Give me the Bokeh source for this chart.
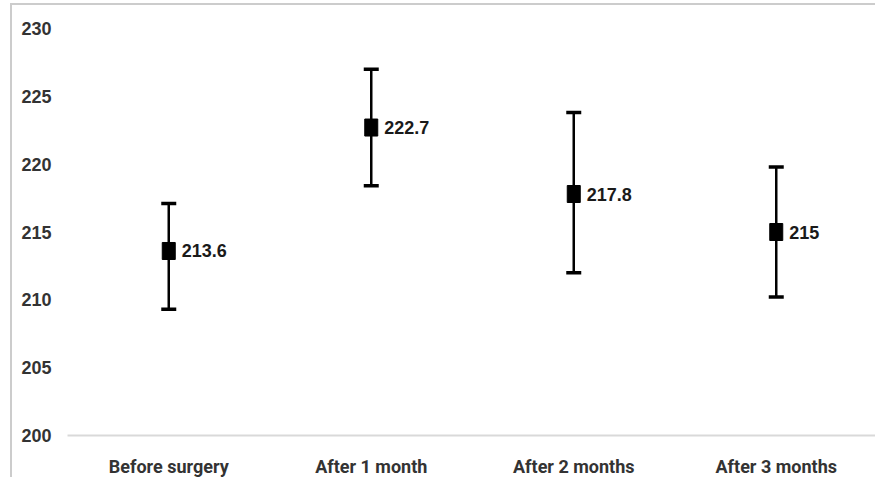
from bokeh.plotting import figure
from bokeh.models import ColumnDataSource, Whisker, TeeHead, FixedTicker, Range1d
from bokeh.core.properties import value
from bokeh.embed import file_html
from bokeh.resources import INLINE

categories = ["Before surgery", "After 1 month", "After 2 months", "After 3 months"]
means = [213.6, 222.7, 217.8, 215.0]
upper = [217.1, 227.0, 223.8, 219.8]
lower = [209.3, 218.4, 212.0, 210.2]
labels = ["213.6", "222.7", "217.8", "215"]
y_ticks = [200, 205, 210, 215, 220, 225, 230]

src = ColumnDataSource(dict(cat=categories, mean=means, upper=upper, lower=lower, label=labels))

p = figure(x_range=categories, y_range=Range1d(200, 230), width=865, height=474,
           output_backend="svg", toolbar_location=None,
           min_border_left=55, min_border_right=0, min_border_top=23, min_border_bottom=10)
p.styles = {"margin-top": "3px", "margin-left": "10px",
            "border-top": "2px solid #cccccc", "border-left": "2px solid #cccccc"}
p.outline_line_color = None
p.background_fill_color = "white"
p.border_fill_color = "white"
p.xgrid.grid_line_color = None
p.ygrid.grid_line_color = None

w = Whisker(source=src, base="cat", upper="upper", lower="lower",
            line_color="black", line_width=2.5,
            upper_head=TeeHead(size=15, line_width=3.5, line_color="black"),
            lower_head=TeeHead(size=15, line_width=3.5, line_color="black"))
p.add_layout(w)

p.rect(x="cat", y="mean", width=13, height=17, width_units="screen", height_units="screen",
       source=src, fill_color="black", line_color="black")
p.text(x="cat", y="mean", text="label", source=src, x_offset=13,
       text_font=value("Liberation Sans"), text_font_style="bold", text_font_size="18px",
       text_baseline="middle", text_align="left", text_color="#1a1a1a")

p.yaxis.ticker = FixedTicker(ticks=y_ticks)
p.yaxis.axis_line_color = None
p.yaxis.major_tick_line_color = None
p.yaxis.major_tick_out = 0
p.yaxis.minor_tick_line_color = None
p.yaxis.major_label_text_font = "Liberation Sans"
p.yaxis.major_label_text_font_style = "bold"
p.yaxis.major_label_text_font_size = "18px"
p.yaxis.major_label_text_color = "#333333"
p.yaxis.major_label_standoff = 16

p.xaxis.axis_line_color = "#d9d9d9"
p.xaxis.axis_line_width = 2
p.xaxis.major_tick_line_color = None
p.xaxis.major_tick_out = 0
p.xaxis.minor_tick_line_color = None
p.xaxis.major_label_text_font = "Roboto"
p.xaxis.major_label_text_font_style = "bold"
p.xaxis.major_label_text_font_size = "18px"
p.xaxis.major_label_text_color = "#333333"
p.xaxis.major_label_standoff = 20

open("out.html", "w").write(file_html(p, INLINE))
